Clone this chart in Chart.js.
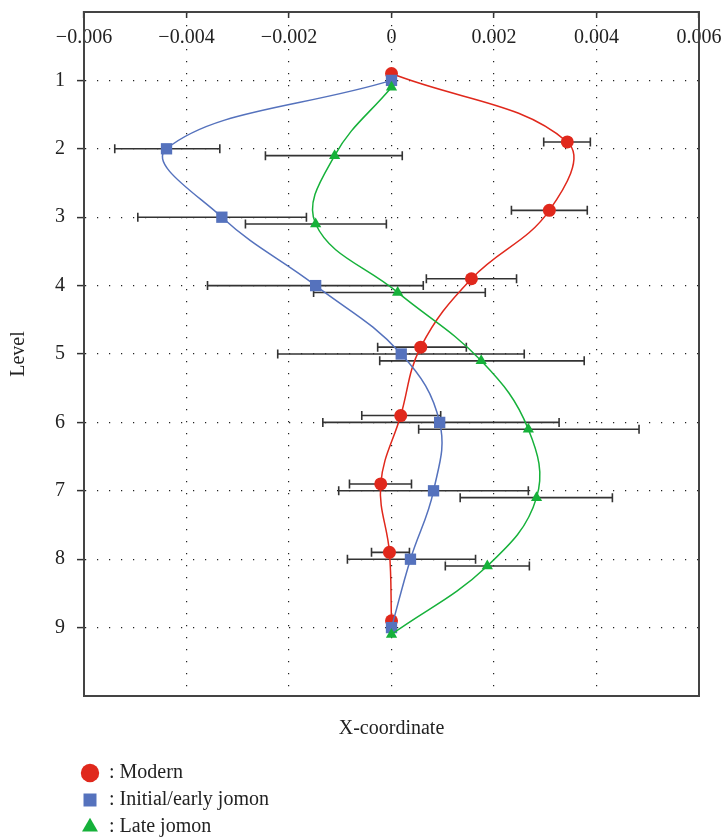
<!DOCTYPE html>
<html>
<head>
<meta charset="utf-8">
<script src="https://cdn.jsdelivr.net/npm/chart.js@4.4.1/dist/chart.umd.min.js"></script>
<style>
    body { margin: 0; background: #fff; }
</style>
</head>
<body>
<canvas id="levelChart" width="721" height="837"></canvas>
<script>
    // levels and x tick values
    var levels = [1, 2, 3, 4, 5, 6, 7, 8, 9];
    var xTicks = [-0.006, -0.004, -0.002, 0, 0.002, 0.004, 0.006];

    // Modern
    var modern     = [0, 0.00343, 0.00308, 0.00156, 0.00057, 0.00018, -0.00021, -0.00004, 0];
    var modernLow  = [0, 0.00297, 0.00234, 0.00068, -0.00027, -0.00058, -0.00082, -0.00039, 0];
    var modernHigh = [0, 0.00388, 0.00382, 0.00244, 0.00146, 0.00096, 0.00039, 0.00035, 0];

    // Initial/early jomon
    var initial     = [0, -0.00439, -0.00331, -0.00148, 0.00019, 0.00094, 0.00082, 0.00037, 0];
    var initialLow  = [0, -0.00540, -0.00495, -0.00359, -0.00222, -0.00134, -0.00103, -0.00086, 0];
    var initialHigh = [0, -0.00335, -0.00166, 0.00062, 0.00259, 0.00327, 0.00267, 0.00164, 0];

    // Late jomon
    var late     = [0, -0.00111, -0.00148, 0.00012, 0.00175, 0.00267, 0.00283, 0.00187, 0];
    var lateLow  = [0, -0.00246, -0.00285, -0.00152, -0.00023, 0.00053, 0.00134, 0.00105, 0];
    var lateHigh = [0, 0.00021, -0.00010, 0.00183, 0.00376, 0.00483, 0.00431, 0.00269, 0];

    var serif = "'Liberation Serif', 'Times New Roman', serif";
    var red = '#e0281c', blue = '#5572bd', green = '#16b13a';

    function points(xs, shift, lo, hi) {
        return levels.map(function(lv, i) {
            return {x: xs[i], y: lv + shift, lo: lo[i], hi: hi[i]};
        });
    }

    function fmt(v) {
        if (v === 0) return '0';
        return (v < 0 ? '\u2212' : '') + Math.abs(v).toFixed(3);
    }

    var pad = new Array(71).join(' ');

    var errorBars = {
        id: 'errorBars',
        beforeDatasetsDraw: function(chart) {
            var ctx = chart.ctx, xs = chart.scales.x, ys = chart.scales.y;
            ctx.save();
            ctx.strokeStyle = '#333';
            ctx.lineWidth = 1.6;
            chart.data.datasets.forEach(function(ds) {
                ds.data.forEach(function(p) {
                    if (p.lo === p.hi) return;
                    var y = ys.getPixelForValue(p.y);
                    var x0 = xs.getPixelForValue(p.lo), x1 = xs.getPixelForValue(p.hi);
                    ctx.beginPath();
                    ctx.moveTo(x0, y); ctx.lineTo(x1, y);
                    ctx.moveTo(x0, y - 4.5); ctx.lineTo(x0, y + 4.5);
                    ctx.moveTo(x1, y - 4.5); ctx.lineTo(x1, y + 4.5);
                    ctx.stroke();
                });
            });
            ctx.restore();
        }
    };

    var legendShift = {
        id: 'legendShift',
        afterLayout: function(chart) {
            var l = chart.legend;
            l.left -= 10; l.right -= 10;
            l.top += 10; l.bottom += 10;
        }
    };

    var gridStyle = {color: '#222', lineWidth: 1.2, tickColor: '#333', tickWidth: 1.5};
    var frame = {display: true, color: '#444', width: 2, dash: [1.2, 10.8]};

    new Chart(document.getElementById('levelChart'), {
        type: 'scatter',
        data: {
            datasets: [{
                label: ': Modern',
                data: points(modern, -0.1, modernLow, modernHigh),
                showLine: true, tension: 0.4,
                borderColor: red, borderWidth: 1.5, backgroundColor: red,
                pointStyle: 'circle', pointRadius: 6.5,
                pointBackgroundColor: red, pointBorderWidth: 0,
                order: 3
            }, {
                label: ': Initial/early jomon',
                data: points(initial, 0, initialLow, initialHigh),
                showLine: true, tension: 0.4,
                borderColor: blue, borderWidth: 1.5, backgroundColor: blue,
                pointStyle: 'rect', pointRadius: 8,
                pointBackgroundColor: blue, pointBorderWidth: 0,
                order: 2
            }, {
                label: ': Late jomon',
                data: points(late, 0.1, lateLow, lateHigh),
                showLine: true, tension: 0.4,
                borderColor: green, borderWidth: 1.5, backgroundColor: green,
                pointStyle: 'triangle', pointRadius: 6.5,
                pointBackgroundColor: green, pointBorderWidth: 0,
                order: 1
            }]
        },
        options: {
            responsive: false,
            animation: false,
            layout: {padding: {top: 12, right: 22, left: 0, bottom: 0}},
            plugins: {
                tooltip: {enabled: false},
                legend: {
                    position: 'bottom',
                    align: 'start',
                    fullSize: false,
                    labels: {
                        usePointStyle: true,
                        boxWidth: 18,
                        boxHeight: 13,
                        padding: 7,
                        color: '#222',
                        font: {family: serif, size: 20},
                        sort: function(a, b) { return a.datasetIndex - b.datasetIndex; },
                        generateLabels: function(chart) {
                            var items = Chart.defaults.plugins.legend.labels.generateLabels(chart);
                            items.forEach(function(it) { it.text = it.text + pad; });
                            return items;
                        }
                    }
                }
            },
            scales: {
                x: {
                    type: 'linear', position: 'top',
                    min: -0.006, max: 0.006,
                    afterFit: function(s) { s.height = 0; s.paddingLeft = 0; s.paddingRight = 0; },
                    afterBuildTicks: function(s) { s.ticks = xTicks.map(function(v) { return {value: v}; }); },
                    grid: Object.assign({tickLength: -6}, gridStyle),
                    border: frame,
                    ticks: {
                        mirror: true, padding: 14, autoSkip: false, maxRotation: 0,
                        color: '#222', font: {family: serif, size: 20},
                        callback: fmt
                    }
                },
                y: {
                    type: 'linear', position: 'left', reverse: true,
                    min: 0, max: 10,
                    afterFit: function(s) { s.width = 84; s.paddingTop = 0; s.paddingBottom = 0; },
                    afterBuildTicks: function(s) { s.ticks = levels.map(function(v) { return {value: v}; }); },
                    grid: Object.assign({tickLength: 7}, gridStyle),
                    border: frame,
                    ticks: {padding: 12, color: '#222', font: {family: serif, size: 20}},
                    title: {display: true, text: 'Level', color: '#222', padding: {top: 7}, font: {family: serif, size: 20}}
                },
                x2: {
                    type: 'linear', position: 'bottom',
                    min: -0.006, max: 0.006,
                    afterFit: function(s) { s.height = 50; s.paddingLeft = 0; s.paddingRight = 0; },
                    grid: {display: false},
                    ticks: {display: false},
                    border: {display: true, color: '#444', width: 2},
                    title: {display: true, text: 'X-coordinate', color: '#222', padding: {top: 0, bottom: 5}, font: {family: serif, size: 20}}
                },
                y2: {
                    type: 'linear', position: 'right',
                    min: 0, max: 10,
                    afterFit: function(s) { s.width = 0; s.paddingTop = 0; s.paddingBottom = 0; },
                    grid: {display: false},
                    ticks: {display: false},
                    border: {display: true, color: '#444', width: 2}
                }
            }
        },
        plugins: [errorBars, legendShift]
    });
</script>
</body>
</html>
